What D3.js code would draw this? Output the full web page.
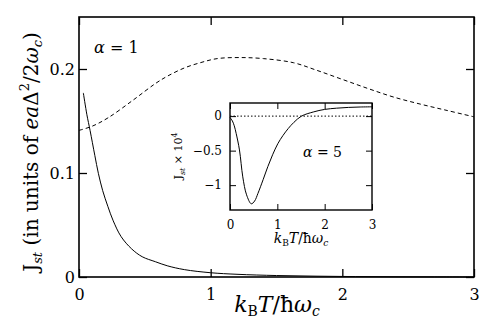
<!DOCTYPE html>
<html>
<head>
<meta charset="utf-8">
<script src="https://cdn.jsdelivr.net/npm/d3@7"></script>
<style>
  body { margin: 0; background: #fff; }
</style>
</head>
<body>
<div id="chart"></div>
<script>
// main panel data (alpha = 1)
const xTicks = [0, 1, 2, 3];
const yTicks = [0, 0.1, 0.2];
const solidT = [0.033, 0.06, 0.084, 0.12, 0.147, 0.18, 0.22, 0.26, 0.32, 0.4, 0.48, 0.58, 0.67, 0.8, 1.0, 1.2, 1.5, 1.8, 2.1, 2.4, 2.7, 3.0];
const solidJ = [0.177, 0.156, 0.141, 0.117, 0.0997, 0.083, 0.0676, 0.054, 0.0388, 0.027, 0.0195, 0.0147, 0.0108, 0.0071, 0.0041, 0.0026, 0.0014, 0.0008, 0.0004, 0.0002, 0.0001, 0.0];
const dashT = [0, 0.1, 0.22, 0.41, 0.58, 0.67, 0.8, 0.92, 1.05, 1.22, 1.4, 1.63, 1.8, 2.0, 2.2, 2.39, 2.6, 2.8, 3.0];
const dashJ = [0.141, 0.145, 0.153, 0.170, 0.186, 0.193, 0.201, 0.206, 0.210, 0.211, 0.210, 0.206, 0.199, 0.190, 0.181, 0.173, 0.166, 0.160, 0.154];

// inset data (alpha = 5), Jst x 10^4
const insetXTicks = [0, 1, 2, 3];
const insetYTicks = [0, -0.5, -1];
const insetT = [0, 0.05, 0.09, 0.13, 0.2, 0.27, 0.35, 0.45, 0.52, 0.59, 0.7, 0.8, 0.9, 1.01, 1.12, 1.23, 1.35, 1.51, 1.76, 2.0, 2.25, 2.5, 2.75, 3.0];
const insetJ = [-0.02, -0.07, -0.14, -0.25, -0.49, -0.88, -1.14, -1.27, -1.23, -1.12, -0.92, -0.73, -0.56, -0.40, -0.28, -0.18, -0.09, 0.0, 0.06, 0.097, 0.115, 0.126, 0.132, 0.135];

const FONT = "'DejaVu Serif', 'Liberation Serif', serif";
const W = 493, H = 325;
const svg = d3.select("#chart").append("svg")
  .attr("width", W).attr("height", H)
  .attr("font-family", FONT);

// scales
const x = d3.scaleLinear().domain([0, 3]).range([79, 474]);
const y = d3.scaleLinear().domain([0, 0.25]).range([277, 17]);

const line = d3.line().x(d => x(d[0])).y(d => y(d[1])).curve(d3.curveCatmullRom);

svg.append("path")
  .datum(d3.zip(dashT, dashJ))
  .attr("d", line)
  .attr("fill", "none").attr("stroke", "#000").attr("stroke-width", 1)
  .attr("stroke-dasharray", "4,3");

svg.append("path")
  .datum(d3.zip(solidT, solidJ))
  .attr("d", line)
  .attr("fill", "none").attr("stroke", "#000").attr("stroke-width", 1);

// axes with inward ticks
const tickLen = 8;
svg.append("g").attr("transform", "translate(0,277)")
  .call(d3.axisBottom(x).tickValues(xTicks).tickSize(-tickLen).tickPadding(12).tickFormat(d3.format("d")))
  .call(g => g.selectAll("text").attr("font-size", 16));
svg.append("g").attr("transform", "translate(0,17)")
  .call(d3.axisTop(x).tickValues(xTicks).tickSize(-tickLen).tickFormat(""));
svg.append("g").attr("transform", "translate(79,0)")
  .call(d3.axisLeft(y).tickValues(yTicks).tickSize(-tickLen).tickPadding(4).tickFormat(d => d === 0 ? "0" : d3.format(".1f")(d)))
  .call(g => g.selectAll("text").attr("font-size", 16));
svg.append("g").attr("transform", "translate(474,0)")
  .call(d3.axisRight(y).tickValues(yTicks).tickSize(-tickLen).tickFormat(""));
svg.selectAll("g").attr("font-family", FONT);
svg.selectAll(".domain").remove();
svg.selectAll(".tick line").attr("stroke-width", 1.3);

svg.append("rect")
  .attr("x", 79).attr("y", 17).attr("width", 395).attr("height", 260)
  .attr("fill", "none").attr("stroke", "#000").attr("stroke-width", 1.6);

// labels
svg.append("text").attr("x", 94).attr("y", 53).attr("font-size", 16)
  .html('<tspan font-style="italic">α</tspan> = 1');

svg.append("text")
  .attr("transform", "translate(277,312)")
  .attr("text-anchor", "middle").attr("font-size", 22)
  .html('<tspan font-style="italic">k</tspan><tspan font-size="14" dy="4">B</tspan><tspan font-style="italic" dy="-4">T</tspan>/ħ<tspan font-style="italic">ω</tspan><tspan font-size="14" font-style="italic" dy="4">c</tspan>');

svg.append("text")
  .attr("transform", "translate(38,152) rotate(-90)")
  .attr("text-anchor", "middle").attr("font-size", 20)
  .html('J<tspan font-size="13" font-style="italic" dy="4">st</tspan><tspan dy="-4"> (in units of </tspan><tspan font-style="italic">ea</tspan>Δ<tspan font-size="13" dy="-9">2</tspan><tspan dy="9">/2</tspan><tspan font-style="italic">ω</tspan><tspan font-size="13" font-style="italic" dy="4">c</tspan><tspan dy="-4">)</tspan>');

// inset
const ix = d3.scaleLinear().domain([0, 3]).range([230, 372]);
const iy = d3.scaleLinear().domain([-1.36, 0.19]).range([210, 103]);
const iline = d3.line().x(d => ix(d[0])).y(d => iy(d[1])).curve(d3.curveCatmullRom);

svg.append("rect")
  .attr("x", 230).attr("y", 103).attr("width", 142).attr("height", 107)
  .attr("fill", "#fff");

svg.append("line")
  .attr("x1", ix(0)).attr("x2", ix(3)).attr("y1", iy(0)).attr("y2", iy(0))
  .attr("stroke", "#000").attr("stroke-width", 1).attr("stroke-dasharray", "1.5,2");

svg.append("path")
  .datum(d3.zip(insetT, insetJ))
  .attr("d", iline)
  .attr("fill", "none").attr("stroke", "#000").attr("stroke-width", 1);

const iTick = 6;
const gi = [];
gi.push(svg.append("g").attr("transform", "translate(0,210)")
  .call(d3.axisBottom(ix).tickValues(insetXTicks).tickSize(-iTick).tickPadding(10).tickFormat(d3.format("d")))
  .call(g => g.selectAll("text").attr("font-size", 12)));
gi.push(svg.append("g").attr("transform", "translate(0,103)")
  .call(d3.axisTop(ix).tickValues(insetXTicks).tickSize(-iTick).tickFormat("")));
gi.push(svg.append("g").attr("transform", "translate(230,0)")
  .call(d3.axisLeft(iy).tickValues(insetYTicks).tickSize(-iTick).tickPadding(8).tickFormat(d => d === 0 ? "0" : d3.format(".1~f")(d).replace("-", "\u2212")))
  .call(g => g.selectAll("text").attr("font-size", 12)));
gi.push(svg.append("g").attr("transform", "translate(372,0)")
  .call(d3.axisRight(iy).tickValues(insetYTicks).tickSize(-iTick).tickFormat("")));
gi.forEach(g => { g.attr("font-family", FONT); g.select(".domain").remove(); });

svg.append("rect")
  .attr("x", 230).attr("y", 103).attr("width", 142).attr("height", 107)
  .attr("fill", "none").attr("stroke", "#000").attr("stroke-width", 1.4);

svg.append("text").attr("x", 303).attr("y", 157).attr("font-size", 14)
  .html('<tspan font-style="italic">α</tspan> = 5');

svg.append("text")
  .attr("transform", "translate(301,243)")
  .attr("text-anchor", "middle").attr("font-size", 14)
  .html('<tspan font-style="italic">k</tspan><tspan font-size="9" dy="3">B</tspan><tspan font-style="italic" dy="-3">T</tspan>/ħ<tspan font-style="italic">ω</tspan><tspan font-size="9" font-style="italic" dy="3">c</tspan>');

svg.append("text")
  .attr("transform", "translate(182,156) rotate(-90)")
  .attr("text-anchor", "middle").attr("font-size", 11)
  .html('J<tspan font-size="8" font-style="italic" dy="3">st</tspan><tspan dy="-3"> × 10</tspan><tspan font-size="8" dy="-5">4</tspan>');
</script>
</body>
</html>
